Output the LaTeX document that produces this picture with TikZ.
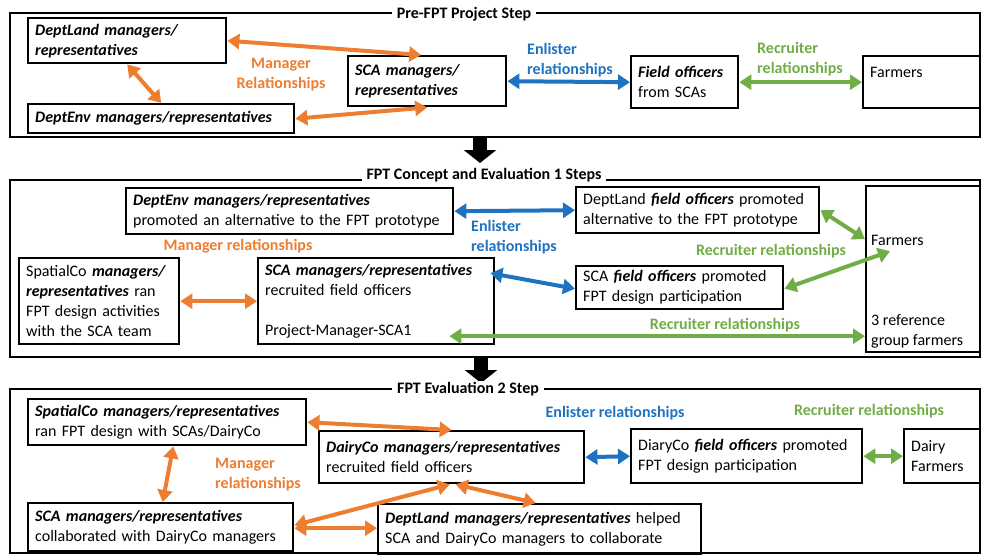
\documentclass[tikz,border=0pt]{standalone}
\usepackage{fontspec}
\setmainfont{Carlito}
\usetikzlibrary{arrows.meta}
\definecolor{orng}{HTML}{ED7D31}
\definecolor{blu}{HTML}{1F72C0}
\definecolor{grn}{HTML}{70AD47}
\newcommand{\bfit}[1]{\textbf{\textit{#1}}}
\begin{document}
\begin{tikzpicture}[x=1pt,y=-1pt,
  font=\fontsize{16}{20}\selectfont,
  box/.style={draw=black, line width=2.4pt, anchor=north west, inner xsep=7pt, inner ysep=0pt, align=left},
  frame/.style={draw=black, line width=2pt},
  title/.style={fill=white, font=\fontsize{16}{20}\selectfont\bfseries, inner xsep=5pt, inner ysep=1pt},
  rel/.style={line width=4pt, {Triangle[width=15pt,length=12pt]}-{Triangle[width=15pt,length=12pt]}},
  lab/.style={font=\fontsize{16}{20}\selectfont\bfseries, align=left, inner sep=0pt},
  plain/.style={align=left, inner sep=0pt},
  stepar/.style={line width=14pt, -{Triangle[width=32pt,length=13pt]}}
]
\useasboundingbox (0,0) rectangle (981,555);

% ---------------- Frame 1 ----------------
\draw[frame] (10,13) rectangle (980,137);
\node[title] (t1) at (464,14) {Pre-FPT Project Step};

\node[box, text width=184pt, minimum height=45pt] (dl1) at (27,17) {\bfit{DeptLand managers/}\\\bfit{representatives}};
\node[box, text width=252pt, minimum height=29pt] (de1) at (27,103) {\bfit{DeptEnv managers/representatives}};
\node[box, text width=144pt, minimum height=50pt] (sca1) at (347,55) {\bfit{SCA managers/}\\\bfit{representatives}};
\node[box, text width=93pt, minimum height=52pt] (fo1) at (630,55) {\bfit{Field officers}\\from SCAs};
\node[box, text width=104pt, minimum height=52pt] (fa1) at (862,55) {Farmers\\\mbox{}};

\draw[rel, orng] (dl1.east) -- ([xshift=-6pt]sca1.north);
\draw[rel, orng] (dl1.south) -- (de1.north);
\draw[rel, orng] (de1.east) -- (sca1.south);
\draw[rel, blu] (sca1.east) -- (fo1.west);
\draw[rel, grn] (fo1.east) -- (fa1.west);

\node[lab, orng, align=center] (l1a) at (281,75) {Manager\\Relationships};
\node[lab, blu, anchor=west] (l1b) at (527,60) {Enlister\\relationships};
\node[lab, grn, anchor=west] (l1c) at (757,59) {Recruiter\\relationships};

% step arrow 1
\coordinate (s1a) at (480,137);
\coordinate (s1b) at (480,163);
\draw[stepar] (s1a) -- (s1b);

% ---------------- Frame 2 ----------------
\draw[frame] (10,180) rectangle (980,357);
\node[title] (t2) at (484,175) {FPT Concept and Evaluation 1 Steps};

\node[box, text width=313pt, minimum height=46pt] (de2) at (125,187) {\bfit{DeptEnv managers/representatives}\\promoted an alternative to the FPT prototype};
\node[box, text width=229pt, minimum height=46pt] (dlfo2) at (575,186) {DeptLand \bfit{field officers} promoted\\alternative to the FPT prototype};
\node[box, text width=146pt, minimum height=86pt] (sp2) at (18,257) {SpatialCo \bfit{managers/}\\\bfit{representatives} ran\\FPT design activities\\with the SCA team};
\node[box, text width=222pt, minimum height=86pt] (sca2) at (257,257) {\bfit{SCA managers/representatives}\\recruited field officers\\\mbox{}\\Project-Manager-SCA1};
\node[box, text width=193pt, minimum height=43pt] (scafo2) at (575,265) {SCA \bfit{field officers} promoted\\FPT design participation};
\node[box, minimum width=115pt, minimum height=166pt] (fa2) at (865,185) {};
\node[plain, anchor=west] (fa2a) at (871,240) {Farmers};
\node[plain, anchor=west] (fa2b) at (871,331) {3 reference\\group farmers};

\draw[rel, blu] (de2.east) -- (dlfo2.west);
\draw[rel, blu] ([xshift=-5pt,yshift=28pt]sca2.east) -- ([yshift=-1pt]scafo2.west);
\draw[rel, orng] (sp2.east) -- (sca2.west);
\draw[rel, grn] (dlfo2.east) -- ([yshift=30pt]fa2.west);
\draw[rel, grn] ([yshift=-1pt]scafo2.east) -- ([xshift=25pt,yshift=18pt]fa2.west);
\draw[rel, grn] ([xshift=-46pt,yshift=-35pt]sca2.east) -- ([yshift=-67pt]fa2.west);

\node[lab, blu, anchor=west] (l2a) at (471,237) {Enlister\\relationships};
\node[lab, orng] (l2b) at (238,246) {Manager relationships};
\node[lab, grn] (l2c) at (771,251) {Recruiter relationships};
\node[lab, grn] (l2d) at (725,325) {Recruiter relationships};

% step arrow 2
\coordinate (s2a) at (481,357);
\coordinate (s2b) at (481,383);
\draw[stepar] (s2a) -- (s2b);

% ---------------- Frame 3 ----------------
\draw[frame] (10,389) rectangle (980,553);
\node[title] (t3) at (468,389) {FPT Evaluation 2 Step};

\node[box, text width=264pt, minimum height=46pt] (sp3) at (27,398) {\bfit{SpatialCo managers/representatives}\\ran FPT design with SCAs/DairyCo};
\node[box, text width=251pt, minimum height=52pt] (dc3) at (318,430) {\bfit{DairyCo managers/representatives}\\recruited field officers};
\node[box, text width=217pt, minimum height=54pt] (dfo3) at (630,428) {DiaryCo \bfit{field officers} promoted\\FPT design participation};
\node[box, text width=64pt, minimum height=54pt] (df3) at (903,428) {Dairy\\Farmers};
\node[box, text width=251pt, minimum height=48pt] (sca3) at (27,502) {\bfit{SCA managers/representatives}\\collaborated with DairyCo managers};
\node[box, text width=309pt, minimum height=50pt] (dl3) at (377,503) {\bfit{DeptLand managers/representatives} helped\\SCA and DairyCo managers to collaborate};

\draw[rel, orng] (sp3.east) -- (dc3.north);
\draw[rel, orng] ([xshift=6pt]sp3.south) -- ([xshift=2pt]sca3.north);
\draw[rel, orng] ([yshift=2pt]sca3.east) -- ([xshift=-2pt]dc3.south);
\draw[rel, orng] ([yshift=-1pt]sca3.east) -- ([yshift=1pt]dl3.west);
\draw[rel, orng] ([xshift=4pt]dc3.south) -- ([xshift=-4pt]dl3.north);
\draw[rel, blu] (dc3.east) -- (dfo3.west);
\draw[rel, grn] (dfo3.east) -- (df3.west);

\node[lab, orng, anchor=west] (l3a) at (215,475) {Manager\\relationships};
\node[lab, blu] (l3b) at (615,413) {Enlister relationships};
\node[lab, grn] (l3c) at (869,411) {Recruiter relationships};
\end{tikzpicture}
\end{document}
